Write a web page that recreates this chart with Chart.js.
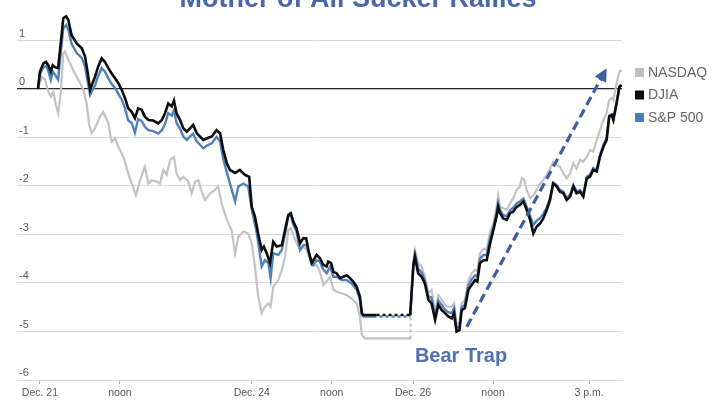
<!DOCTYPE html>
<html><head><meta charset="utf-8">
<script src="https://cdn.jsdelivr.net/npm/chart.js@4.4.1/dist/chart.umd.min.js"></script>
<style>html,body{margin:0;padding:0;background:#fff;}#wrap{width:720px;height:405px;overflow:hidden;position:relative;}</style>
</head><body><div id="wrap"><canvas id="c" width="720" height="405"></canvas></div>
<script>
// ---- text ----
const TITLE = 'Mother of All Sucker Rallies';
const seriesNames = ['NASDAQ', 'DJIA', 'S&P 500'];
// x axis: trading hours since Dec. 21 open (holiday gap compressed)
const xTickPos = [0.06, 2.56, 6.68, 9.18, 11.72, 14.22, 17.22];
const xTickLabels = ['Dec. 21', 'noon', 'Dec. 24', 'noon', 'Dec. 26', 'noon', '3 p.m.'];
const yTicks = [-6, -5, -4, -3, -2, -1, 0, 1];
const yTickLabels = ['-6', '-5', '-4', '-3', '-2', '-1', '0', '1'];
const marketClosed = [10.58, 11.63];

// ---- series (% change) ----
const djiaT = [0,0.06,0.17,0.25,0.32,0.40,0.46,0.53,0.63,0.71,0.79,0.88,0.95,1.05,1.21,1.37,1.47,1.54,1.63,1.68,1.78,1.88,1.99,2.09,2.20,2.30,2.41,2.51,2.62,2.72,2.82,2.93,3.03,3.13,3.24,3.34,3.45,3.60,3.76,3.87,3.97,4.07,4.18,4.25,4.33,4.44,4.54,4.65,4.75,4.85,4.96,5.06,5.17,5.27,5.43,5.58,5.69,5.79,5.90,6.00,6.16,6.31,6.47,6.60,6.68,6.78,6.88,6.99,7.06,7.15,7.25,7.35,7.46,7.62,7.72,7.82,7.90,7.98,8.08,8.19,8.29,8.38,8.45,8.55,8.71,8.81,8.92,9.02,9.07,9.16,9.23,9.33,9.44,9.54,9.65,9.75,9.85,9.96,10.06,10.12,10.17,10.58,11.63,11.73,11.78,11.88,11.99,12.09,12.20,12.30,12.41,12.51,12.62,12.72,12.82,12.93,13.00,13.08,13.17,13.24,13.34,13.45,13.55,13.66,13.73,13.81,13.92,14.02,14.13,14.23,14.33,14.38,14.44,14.54,14.65,14.75,14.85,14.96,15.06,15.17,15.27,15.38,15.48,15.58,15.69,15.79,15.90,16.00,16.10,16.21,16.31,16.42,16.52,16.63,16.73,16.83,16.94,17.04,17.15,17.25,17.35,17.46,17.56,17.67,17.77,17.85,17.93,17.98,18.08,18.17,18.24];
const djiaV = [0,0.36,0.53,0.56,0.49,0.36,0.49,0.45,0.43,0.94,1.46,1.50,1.42,1.11,0.94,0.84,0.67,0.39,-0.02,0.08,0.25,0.46,0.63,0.56,0.43,0.32,0.22,0.12,-0.02,-0.19,-0.40,-0.47,-0.60,-0.40,-0.43,-0.57,-0.64,-0.65,-0.71,-0.64,-0.50,-0.30,-0.36,-0.24,-0.50,-0.64,-0.81,-0.88,-0.81,-0.74,-0.91,-0.98,-1.05,-1.02,-0.98,-0.85,-0.91,-1.26,-1.53,-1.67,-1.73,-1.67,-1.77,-1.81,-2.43,-2.63,-2.98,-3.32,-3.25,-3.39,-3.59,-3.15,-3.25,-3.22,-2.91,-2.60,-2.56,-2.74,-2.87,-3.18,-3.08,-3.08,-3.32,-3.59,-3.42,-3.49,-3.63,-3.66,-3.56,-3.59,-3.77,-3.80,-3.90,-3.87,-3.84,-3.90,-3.97,-4.08,-4.28,-4.62,-4.66,-4.66,-4.66,-3.66,-3.46,-3.80,-3.87,-4.01,-4.35,-4.42,-4.76,-4.45,-4.56,-4.62,-4.69,-4.73,-4.62,-5.00,-4.97,-4.56,-4.52,-4.14,-4.04,-3.94,-3.97,-3.59,-3.53,-3.53,-3.18,-2.91,-2.63,-2.43,-2.56,-2.67,-2.70,-2.56,-2.53,-2.43,-2.39,-2.32,-2.49,-2.70,-2.98,-2.84,-2.77,-2.67,-2.49,-2.29,-1.95,-2.01,-2.12,-2.15,-2.29,-2.22,-2.01,-2.15,-2.12,-2.22,-1.84,-1.81,-1.67,-1.70,-1.40,-1.19,-1.05,-0.57,-0.54,-0.64,-0.30,0.05,0.08];

const ndqT = [0,0.12,0.22,0.32,0.40,0.48,0.56,0.63,0.71,0.79,0.84,0.95,1.10,1.26,1.42,1.52,1.60,1.68,1.78,1.94,2.04,2.20,2.30,2.41,2.51,2.67,2.82,2.93,3.06,3.19,3.34,3.45,3.55,3.71,3.81,3.92,4.02,4.13,4.25,4.33,4.44,4.54,4.70,4.80,4.91,5.01,5.12,5.22,5.38,5.53,5.63,5.74,5.90,6.05,6.16,6.26,6.42,6.57,6.68,6.78,6.88,6.99,7.09,7.20,7.27,7.35,7.51,7.62,7.72,7.82,7.90,7.98,8.08,8.19,8.29,8.40,8.50,8.60,8.71,8.81,8.92,9.02,9.13,9.23,9.33,9.49,9.65,9.80,9.96,10.06,10.12,10.22,11.63,11.64,11.73,11.78,11.88,11.99,12.09,12.20,12.30,12.41,12.51,12.62,12.72,12.82,12.93,13.00,13.08,13.17,13.24,13.34,13.45,13.55,13.66,13.73,13.81,13.92,14.02,14.13,14.23,14.33,14.38,14.44,14.54,14.65,14.75,14.85,14.96,15.06,15.12,15.19,15.27,15.38,15.48,15.58,15.69,15.79,15.90,16.00,16.10,16.21,16.31,16.42,16.52,16.63,16.73,16.83,16.94,17.04,17.15,17.25,17.35,17.46,17.56,17.67,17.77,17.85,17.93,17.98,18.08,18.17,18.24];
const ndqV = [0,0.25,0.19,-0.05,-0.16,-0.05,-0.33,-0.50,-0.09,0.74,0.77,0.60,0.39,0.19,-0.02,-0.29,-0.74,-0.91,-0.81,-0.57,-0.47,-0.71,-1.09,-1.02,-1.19,-1.40,-1.74,-1.95,-2.19,-1.88,-1.60,-1.95,-1.88,-1.91,-1.95,-1.67,-1.77,-1.46,-1.40,-1.74,-1.88,-1.81,-1.91,-2.15,-1.91,-1.88,-2.12,-2.29,-2.15,-2.08,-2.01,-2.36,-2.70,-2.91,-3.39,-3.05,-2.94,-2.98,-3.18,-3.66,-4.28,-4.62,-4.49,-4.42,-4.49,-4.08,-3.94,-3.73,-3.46,-2.91,-2.87,-3.01,-3.18,-3.32,-3.25,-3.32,-3.53,-3.63,-3.63,-3.77,-4.04,-3.97,-3.87,-4.14,-4.18,-4.21,-4.25,-4.32,-4.42,-4.69,-5.07,-5.14,-5.14,-4.66,-3.53,-3.32,-3.59,-3.66,-3.87,-4.21,-4.14,-4.62,-4.25,-4.35,-4.45,-4.49,-4.49,-4.42,-4.83,-4.83,-4.42,-4.35,-3.94,-3.80,-3.73,-3.76,-3.39,-3.29,-3.32,-2.94,-2.77,-2.43,-2.19,-2.43,-2.46,-2.49,-2.36,-2.25,-2.08,-2.01,-1.84,-1.87,-2.08,-2.25,-2.19,-2.08,-1.95,-1.88,-1.77,-1.64,-1.50,-1.57,-1.60,-1.74,-1.84,-1.74,-1.53,-1.64,-1.46,-1.50,-1.40,-1.26,-1.29,-1.05,-0.85,-0.64,-0.50,-0.23,-0.19,-0.23,0.12,0.36,0.39];

const spxT = [0,0.06,0.17,0.25,0.32,0.40,0.46,0.53,0.63,0.71,0.79,0.88,0.95,1.05,1.21,1.37,1.47,1.54,1.63,1.68,1.78,1.88,1.99,2.09,2.20,2.30,2.41,2.51,2.62,2.72,2.82,2.93,3.03,3.13,3.24,3.34,3.45,3.60,3.76,3.87,3.97,4.07,4.18,4.25,4.33,4.44,4.54,4.65,4.75,4.85,4.96,5.06,5.17,5.27,5.43,5.58,5.69,5.79,5.90,6.00,6.16,6.26,6.42,6.57,6.68,6.84,6.99,7.09,7.20,7.27,7.35,7.51,7.62,7.72,7.82,7.90,7.98,8.08,8.19,8.29,8.40,8.50,8.60,8.71,8.81,8.92,9.02,9.13,9.23,9.33,9.49,9.65,9.80,9.96,10.06,10.12,10.17,10.58,11.63,11.73,11.78,11.88,11.99,12.09,12.20,12.30,12.41,12.51,12.62,12.72,12.82,12.93,13.00,13.08,13.17,13.24,13.34,13.45,13.55,13.66,13.73,13.81,13.92,14.02,14.13,14.23,14.33,14.38,14.44,14.54,14.65,14.75,14.85,14.96,15.06,15.17,15.27,15.38,15.48,15.58,15.69,15.79,15.90,16.00,16.10,16.21,16.31,16.42,16.52,16.63,16.73,16.83,16.94,17.04,17.15,17.25,17.35,17.46,17.56,17.67,17.77,17.85,17.93,17.98,18.08,18.17,18.24];
const spxV = [0,0.30,0.45,0.47,0.38,0.19,0.36,0.30,0.19,0.75,1.25,1.32,1.22,0.93,0.74,0.64,0.46,0.20,-0.12,-0.05,0.07,0.27,0.43,0.36,0.22,0.10,0.02,-0.10,-0.22,-0.40,-0.65,-0.70,-0.90,-0.62,-0.66,-0.78,-0.85,-0.87,-0.92,-0.85,-0.72,-0.50,-0.55,-0.44,-0.70,-0.82,-0.98,-1.05,-0.98,-0.92,-1.08,-1.15,-1.22,-1.17,-1.12,-0.99,-1.08,-1.45,-1.72,-1.95,-2.32,-2.01,-1.95,-2.01,-2.49,-2.98,-3.66,-3.53,-3.59,-3.90,-3.39,-3.42,-3.32,-2.98,-2.63,-2.60,-2.80,-2.94,-3.32,-3.22,-3.22,-3.46,-3.63,-3.53,-3.56,-3.73,-3.80,-3.66,-3.87,-3.87,-3.94,-3.94,-4.01,-4.14,-4.35,-4.66,-4.69,-4.69,-4.69,-3.60,-3.40,-3.70,-3.78,-3.95,-4.28,-4.30,-4.70,-4.36,-4.46,-4.55,-4.60,-4.62,-4.52,-4.92,-4.90,-4.50,-4.45,-4.05,-3.92,-3.84,-3.87,-3.50,-3.42,-3.43,-3.07,-2.85,-2.55,-2.35,-2.50,-2.60,-2.62,-2.50,-2.45,-2.36,-2.32,-2.26,-2.42,-2.62,-2.80,-2.72,-2.66,-2.58,-2.44,-2.25,-1.93,-1.98,-2.08,-2.12,-2.25,-2.18,-1.98,-2.11,-2.08,-2.18,-1.81,-1.77,-1.63,-1.66,-1.36,-1.15,-1.01,-0.55,-0.52,-0.62,-0.28,0.04,0.07];

// ---- annotations (data coordinates) ----
const arrowT = [13.40, 17.77];
const arrowV = [-4.90, 0.43];
const noteText = 'Bear Trap';
const noteT = 13.22, noteV = -5.63;

const pts = (ts, vs) => ts.map((t, i) => ({x: t, y: vs[i]}));
const FONT = '"Liberation Sans", Arial, sans-serif';
const dashIn = (from, to) => ctx => (ctx.p0.parsed.x >= from - 1e-6 && ctx.p1.parsed.x <= to + 1e-6) ? [3, 3] : undefined;

const colors = ['#c3c3c3', '#0d0d0d', '#4f81bd'];
const legendColors = ['#bfbfbf', '#0d0d0d', '#4a7fbb'];

const datasets = [
  {label: seriesNames[0], data: pts(ndqT, ndqV), borderColor: colors[0], borderWidth: 2.2, order: 3,
   segment: {borderDash: dashIn(marketClosed[1], marketClosed[1] + 0.01)}},
  {label: seriesNames[1], data: pts(djiaT, djiaV), borderColor: colors[1], borderWidth: 2.6, order: 1,
   segment: {borderDash: dashIn(marketClosed[0], marketClosed[1])}},
  {label: seriesNames[2], data: pts(spxT, spxV), borderColor: colors[2], borderWidth: 2.4, order: 2,
   borderDashOffset: 3,
   segment: {borderDash: dashIn(marketClosed[0], marketClosed[1])}},
  {label: '_arrow', data: pts(arrowT, arrowV), borderColor: '#3d5e9f', borderWidth: 3.2,
   borderDash: [9, 5], order: 0}
];
datasets.forEach(d => { d.pointRadius = 0; d.tension = 0; d.fill = false; });

const decor = {
  id: 'decor',
  afterDatasetsDraw(chart) {
    const ctx = chart.ctx;
    const meta = chart.getDatasetMeta(3);
    const a = meta.data[0], b = meta.data[1];
    const ang = Math.atan2(b.y - a.y, b.x - a.x);
    const L = 13, W = 6.5;
    ctx.save();
    ctx.fillStyle = '#3d5e9f';
    ctx.beginPath();
    ctx.moveTo(b.x, b.y);
    ctx.lineTo(b.x - L * Math.cos(ang) + W * Math.sin(ang), b.y - L * Math.sin(ang) - W * Math.cos(ang));
    ctx.lineTo(b.x - L * Math.cos(ang) - W * Math.sin(ang), b.y - L * Math.sin(ang) + W * Math.cos(ang));
    ctx.closePath();
    ctx.fill();
    ctx.restore();
  },
  afterDraw(chart) {
    const {ctx, scales: {x, y}} = chart;
    ctx.save();
    // title (cut off by top of frame as in original)
    ctx.fillStyle = '#4a68a8';
    ctx.font = 'bold 27px ' + FONT;
    ctx.textAlign = 'center';
    ctx.textBaseline = 'alphabetic';
    ctx.fillText(TITLE, 358, 7);
    // annotation
    ctx.fillStyle = '#5070ae';
    ctx.font = 'bold 20px ' + FONT;
    ctx.fillText(noteText, x.getPixelForValue(noteT), y.getPixelForValue(noteV));
    // legend
    ctx.textAlign = 'left';
    ctx.textBaseline = 'middle';
    ctx.font = '14px ' + FONT;
    [0, 1, 2].forEach((i, k) => {
      const cy = 72.5 + k * 22.5;
      ctx.fillStyle = legendColors[i];
      ctx.fillRect(635, cy - 4.5, 9, 9);
      ctx.fillStyle = '#666666';
      ctx.fillText(chart.data.datasets[i].label, 648, cy + 0.5);
    });
    ctx.restore();
  }
};

new Chart(document.getElementById('c'), {
  type: 'line',
  data: {datasets},
  plugins: [decor],
  options: {
    responsive: false,
    animation: false,
    devicePixelRatio: 1,
    layout: {padding: {left: 0, right: 98, top: 0, bottom: 0}},
    plugins: {legend: {display: false}, tooltip: {enabled: false}},
    scales: {
      x: {
        type: 'linear', min: -0.656, max: 18.25,
        afterBuildTicks: s => { s.ticks = xTickPos.map(v => ({value: v})); },
        afterFit: s => { s.height = 25; s.paddingLeft = 0; s.paddingRight = 0; },
        ticks: {autoSkip: false, maxRotation: 0, padding: 3, color: '#595959',
                font: {family: FONT, size: 10.5},
                callback: (v, i) => xTickLabels[i]},
        grid: {drawOnChartArea: false, drawTicks: true, tickLength: 4, tickColor: '#a6a6a6'},
        border: {display: true, color: '#d9d9d9'}
      },
      y: {
        type: 'linear', min: -6, max: 1.835,
        afterBuildTicks: s => { s.ticks = yTicks.map(v => ({value: v})); },
        afterFit: s => { s.width = 17; s.paddingTop = 0; s.paddingBottom = 0; },
        ticks: {mirror: true, padding: 2, labelOffset: -7, color: '#595959',
                font: {family: FONT, size: 11},
                callback: (v, i) => yTickLabels[i]},
        grid: {drawTicks: false,
               color: c => c.tick && c.tick.value === 0 ? '#262626' : '#d9d9d9',
               lineWidth: c => c.tick && c.tick.value === 0 ? 1.3 : 1},
        border: {display: false}
      }
    }
  }
});
</script></body></html>
